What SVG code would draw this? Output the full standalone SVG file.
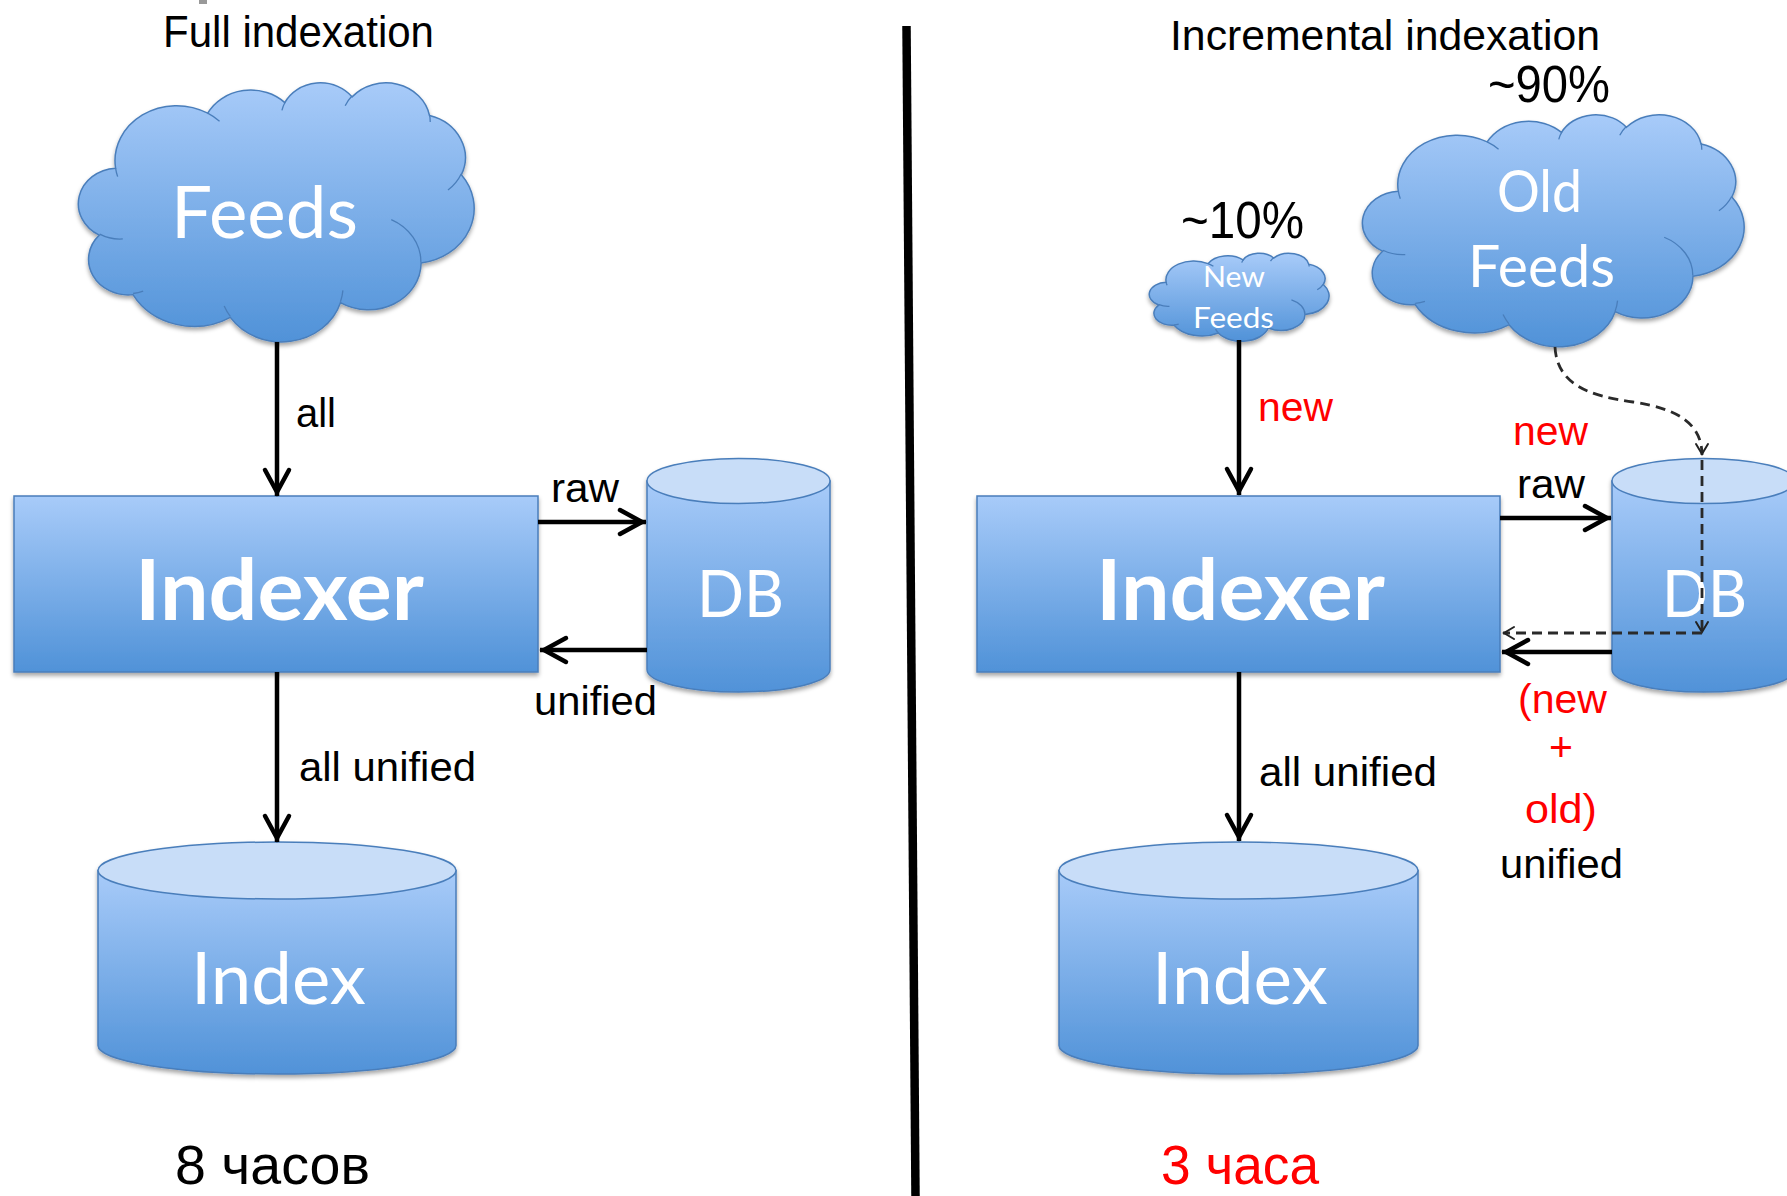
<svg xmlns="http://www.w3.org/2000/svg" xmlns:xlink="http://www.w3.org/1999/xlink" width="1787" height="1196" viewBox="0 0 1787 1196">
<style>
  .lbl { font-family: "Liberation Sans", Arial, sans-serif; fill: #000; }
  .red { fill: #ff0000; }
  .wt { font-family: Lato, "Liberation Sans", sans-serif; fill: #fff; }
  .shape { fill: url(#grad); stroke: #4a7ebb; stroke-width: 1.5; }
  .cyltop { fill: #c8ddf8; stroke: #4a7ebb; stroke-width: 1.5; }
  .cloudin { fill: none; stroke: #4a7ebb; stroke-width: 1.3; }
  .conn { stroke: #000; stroke-width: 4.5; fill: none; marker-end: url(#arr); }
  .dash { stroke: #2a2a2a; stroke-width: 2.8; fill: none; stroke-dasharray: 10 6; marker-end: url(#arrs); }
</style>
<defs>
  <linearGradient id="grad" x1="0" y1="0" x2="0" y2="1">
    <stop offset="0" stop-color="#a8cbf9"/>
    <stop offset="1" stop-color="#5092d8"/>
  </linearGradient>
  <filter id="sh" x="-10%" y="-10%" width="120%" height="125%">
    <feDropShadow dx="0" dy="3" stdDeviation="2.2" flood-color="#000" flood-opacity="0.35"/>
  </filter>
  <marker id="arr" markerUnits="userSpaceOnUse" viewBox="-30 -16 34 32" markerWidth="34" markerHeight="32" refX="0" refY="0" orient="auto" overflow="visible">
    <path d="M-26,-12 L-4,0 L-26,12" fill="none" stroke="#000" stroke-width="4.5" stroke-linecap="round"/>
  </marker>
  <marker id="arrs" markerUnits="userSpaceOnUse" viewBox="-14 -8 16 16" markerWidth="16" markerHeight="16" refX="0" refY="0" orient="auto" overflow="visible">
    <path d="M-11,-6 L-1,0 L-11,6" fill="none" stroke="#222" stroke-width="2" stroke-linecap="round"/>
  </marker>
  <path id="cloudOuter" vector-effect="non-scaling-stroke" d="M3900,14370 A6753,9190 0 0 1 14004,5202 A5333,7267 0 0 1 22456,3431 A4365,5945 0 0 1 29833,2480 A4857,6595 0 0 1 38318,5575 A5333,7273 0 0 1 41819,15458 A6775,9220 0 0 1 37404,30200 A5785,7867 0 0 1 28556,36810 A6752,9215 0 0 1 16480,39263 A7720,10543 0 0 1 5804,35467 A4360,5918 0 0 1 2112,25547 A4345,5945 0 0 1 3900,14370 Z"/>
  <path id="cloudInner" vector-effect="non-scaling-stroke" d="M4693,26177 A4345,5945 0 0 1 2160,25380 M6928,34899 A4360,5918 0 0 1 5820,35280 M16478,39090 A6752,9215 0 0 1 15810,37348 M28827,34751 A6752,9215 0 0 1 28560,36659 M34129,22954 A5785,7867 0 0 1 37380,30090 M41798,15354 A5333,7273 0 0 1 40350,18029 M38324,5426 A4857,6595 0 0 1 38400,6665 M29078,3952 A4857,6595 0 0 1 29820,2340 M22141,4720 A4365,5945 0 0 1 22500,3330 M14000,5192 A6753,9190 0 0 1 15301,6542 M4127,15789 A6753,9190 0 0 1 3900,14371"/>
</defs>

<rect width="1787" height="1196" fill="#fff"/>

<!-- decorations -->
<rect x="199" y="0" width="8" height="4" fill="#999"/>
<line x1="906.5" y1="26" x2="915.5" y2="1196" stroke="#000" stroke-width="8.5"/>

<!-- headings / captions -->
<text class="lbl" x="163" y="47" font-size="44" textLength="271" lengthAdjust="spacingAndGlyphs">Full indexation</text>
<text class="lbl" x="1170" y="50" font-size="43" textLength="430" lengthAdjust="spacingAndGlyphs">Incremental indexation</text>
<text class="lbl" x="1488" y="102" font-size="52" textLength="122" lengthAdjust="spacingAndGlyphs">~90%</text>
<text class="lbl" x="1181" y="238" font-size="52" textLength="123" lengthAdjust="spacingAndGlyphs">~10%</text>
<text class="lbl" x="175" y="1184" font-size="55" textLength="195" lengthAdjust="spacingAndGlyphs">8 часов</text>
<text class="lbl red" x="1161" y="1184" font-size="55" textLength="158" lengthAdjust="spacingAndGlyphs">3 часа</text>

<!-- LEFT: full indexation -->
<g id="feeds-full">
  <g filter="url(#sh)"><g transform="translate(80,82) scale(0.00912,0.005995)">
    <use xlink:href="#cloudOuter" class="shape"/>
    <use xlink:href="#cloudInner" class="cloudin"/>
  </g></g>
  <text class="wt" x="171" y="238" font-size="71" textLength="187" lengthAdjust="spacingAndGlyphs">Feeds</text>
</g>
<g id="indexer-full">
  <rect class="shape" x="14" y="496" width="524" height="176" filter="url(#sh)"/>
  <text class="wt" x="135" y="620" font-size="85" font-weight="bold" textLength="289" lengthAdjust="spacingAndGlyphs">Indexer</text>
</g>
<g id="db-full">
  <g filter="url(#sh)">
    <path class="shape" d="M647,481 V669.5 A91.5,22.5 0 0 0 830,669.5 V481 Z"/>
    <ellipse class="cyltop" cx="738.5" cy="481" rx="91.5" ry="22.5"/>
  </g>
  <text class="wt" x="697" y="617" font-size="66" textLength="87" lengthAdjust="spacingAndGlyphs">DB</text>
</g>
<g id="index-full">
  <g filter="url(#sh)">
    <path class="shape" d="M98,870.5 V1045.5 A179,28.5 0 0 0 456,1045.5 V870.5 Z"/>
    <ellipse class="cyltop" cx="277" cy="870.5" rx="179" ry="28.5"/>
  </g>
  <text class="wt" x="191" y="1004" font-size="71" textLength="175" lengthAdjust="spacingAndGlyphs">Index</text>
</g>

<!-- RIGHT: incremental indexation -->
<g id="newfeeds-inc">
  <g filter="url(#sh)"><g transform="translate(1150,253) scale(0.004144,0.002037)">
    <use xlink:href="#cloudOuter" class="shape"/>
    <use xlink:href="#cloudInner" class="cloudin"/>
  </g></g>
  <text class="wt" x="1203" y="287" font-size="28" textLength="62" lengthAdjust="spacingAndGlyphs">New</text>
  <text class="wt" x="1193" y="328" font-size="28" textLength="81" lengthAdjust="spacingAndGlyphs">Feeds</text>
</g>
<g id="oldfeeds-inc">
  <g filter="url(#sh)"><g transform="translate(1364,114) scale(0.008796,0.00537)">
    <use xlink:href="#cloudOuter" class="shape"/>
    <use xlink:href="#cloudInner" class="cloudin"/>
  </g></g>
  <text class="wt" x="1497" y="212" font-size="59" textLength="85" lengthAdjust="spacingAndGlyphs">Old</text>
  <text class="wt" x="1468" y="287" font-size="59" textLength="147" lengthAdjust="spacingAndGlyphs">Feeds</text>
</g>
<g id="indexer-inc">
  <rect class="shape" x="977" y="496" width="523" height="176" filter="url(#sh)"/>
  <text class="wt" x="1096" y="620" font-size="85" font-weight="bold" textLength="289" lengthAdjust="spacingAndGlyphs">Indexer</text>
</g>
<g id="db-inc">
  <g filter="url(#sh)">
    <path class="shape" d="M1612,481 V669.5 A91.5,22.5 0 0 0 1795,669.5 V481 Z"/>
    <ellipse class="cyltop" cx="1703.5" cy="481" rx="91.5" ry="22.5"/>
  </g>
  <text class="wt" x="1662" y="617" font-size="66" textLength="85" lengthAdjust="spacingAndGlyphs">DB</text>
</g>
<g id="index-inc">
  <g filter="url(#sh)">
    <path class="shape" d="M1059,870.5 V1045.5 A179.5,28.5 0 0 0 1418,1045.5 V870.5 Z"/>
    <ellipse class="cyltop" cx="1238.5" cy="870.5" rx="179.5" ry="28.5"/>
  </g>
  <text class="wt" x="1152" y="1004" font-size="71" textLength="176" lengthAdjust="spacingAndGlyphs">Index</text>
</g>

<!-- connectors -->
<g id="connectors">
  <line class="conn" x1="277" y1="342" x2="277" y2="496"/>
  <line class="conn" x1="538" y1="522" x2="646" y2="522"/>
  <line class="conn" x1="647" y1="650" x2="540" y2="650"/>
  <line class="conn" x1="277" y1="672" x2="277" y2="842"/>
  <line class="conn" x1="1239" y1="340" x2="1239" y2="495"/>
  <line class="conn" x1="1500" y1="518" x2="1611" y2="518"/>
  <line class="conn" x1="1612" y1="652" x2="1502" y2="652"/>
  <line class="conn" x1="1239" y1="672" x2="1239" y2="841"/>
  <path class="dash" d="M1555,347 C1557,385 1590,396 1633,402 C1680,409 1702,425 1702,455"/>
  <line class="dash" x1="1702" y1="460" x2="1702" y2="633"/>
  <line class="dash" x1="1702" y1="633" x2="1503" y2="633"/>

  <text class="lbl" x="296" y="427" font-size="41" textLength="40" lengthAdjust="spacingAndGlyphs">all</text>
  <text class="lbl" x="551" y="502" font-size="41" textLength="68" lengthAdjust="spacingAndGlyphs">raw</text>
  <text class="lbl" x="534" y="715" font-size="41" textLength="123" lengthAdjust="spacingAndGlyphs">unified</text>
  <text class="lbl" x="299" y="781" font-size="41" textLength="177" lengthAdjust="spacingAndGlyphs">all unified</text>

  <text class="lbl red" x="1258" y="421" font-size="41" textLength="75" lengthAdjust="spacingAndGlyphs">new</text>
  <text class="lbl red" x="1513" y="445" font-size="41" textLength="75" lengthAdjust="spacingAndGlyphs">new</text>
  <text class="lbl" x="1517" y="498" font-size="41" textLength="68" lengthAdjust="spacingAndGlyphs">raw</text>
  <text class="lbl red" x="1518" y="713" font-size="41" textLength="89" lengthAdjust="spacingAndGlyphs">(new</text>
  <text class="lbl red" x="1561" y="761" font-size="41" text-anchor="middle">+</text>
  <text class="lbl red" x="1525" y="823" font-size="41" textLength="72" lengthAdjust="spacingAndGlyphs">old)</text>
  <text class="lbl" x="1500" y="878" font-size="41" textLength="123" lengthAdjust="spacingAndGlyphs">unified</text>
  <text class="lbl" x="1259" y="786" font-size="41" textLength="178" lengthAdjust="spacingAndGlyphs">all unified</text>
</g>
</svg>
